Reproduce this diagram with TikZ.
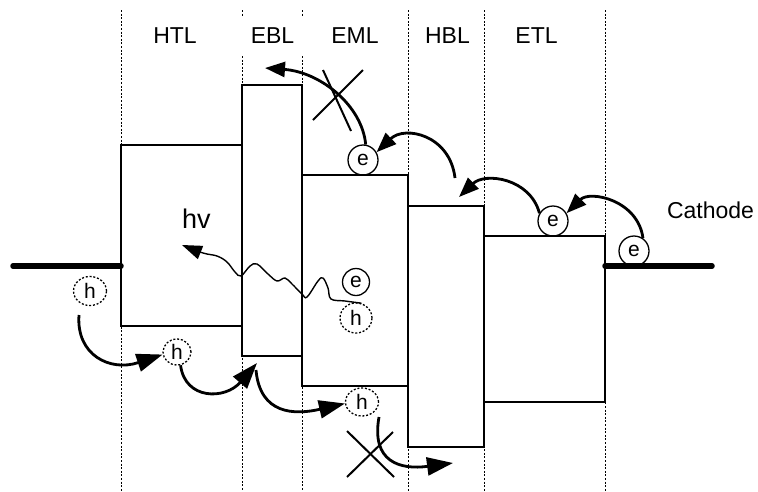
\documentclass[tikz,border=0pt]{standalone}
\usepackage{fontspec}
\setmainfont{Liberation Sans}
\usetikzlibrary{arrows.meta,shapes.geometric}
\begin{document}
\begin{tikzpicture}[x=1pt,y=-1pt,
  guide/.style={line width=1pt,dash pattern=on 2pt off 1.6pt},
  layer/.style={draw,line width=1.4pt,rectangle,inner sep=0pt,outer sep=0pt},
  electrode/.style={line width=5.5pt,line cap=round},
  lbl/.style={font=\fontsize{23}{23}\selectfont,anchor=base,inner sep=0pt},
  elec/.style={draw,circle,line width=1.3pt,minimum size=30pt,inner sep=0pt,font=\fontsize{21}{21}\selectfont},
  hole/.style={draw,ellipse,dash pattern=on 2pt off 1.8pt,line width=1.3pt,minimum width=32pt,minimum height=28pt,inner sep=0pt,font=\fontsize{21}{21}\selectfont},
  hop/.style={line width=2.8pt,-{Triangle[length=20pt,width=15pt]}},
  bighop/.style={line width=2.8pt,-{Triangle[length=26pt,width=18pt]}},
  cross/.style={line width=2pt},
  photon/.style={line width=1.4pt,-{Triangle[length=20pt,width=14pt]}}
]
\useasboundingbox (0,0) rectangle (758,491);

% dashed layer boundaries
\foreach \x in {121,408,484,605} \draw[guide] (\x,10) -- (\x,491);
\foreach \x in {242,302} {\draw[guide] (\x,10) -- (\x,16); \draw[guide] (\x,56) -- (\x,491);}

% layer energy boxes
\node[layer,minimum width=121pt,minimum height=181pt] (htl) at (181.5,235.5) {};
\node[layer,minimum width=60pt,minimum height=271pt] (ebl) at (272,220.5) {};
\node[layer,minimum width=106pt,minimum height=211pt] (eml) at (355,280.5) {};
\node[layer,minimum width=76pt,minimum height=241pt] (hbl) at (446,326.5) {};
\node[layer,minimum width=121pt,minimum height=166pt] (etl) at (544.5,319) {};

% electrodes
\coordinate (anodeL) at (13,266);
\coordinate (cathR) at (712,266);
\draw[electrode] (anodeL) -- (anodeL -| htl.west);
\draw[electrode] (cathR -| etl.east) -- (cathR);

% labels
\node[lbl] (lHTL) at (175,43) {HTL};
\node[lbl] (lEBL) at (272.5,43) {EBL};
\node[lbl] (lEML) at (355,43) {EML};
\node[lbl] (lHBL) at (447.5,43) {HBL};
\node[lbl] (lETL) at (536.5,43) {ETL};
\node[lbl] (lCath) at (710.5,218) {Cathode};
\node[font=\fontsize{27}{27}\selectfont,anchor=base west,inner sep=0pt] (hv) at (182,228) {hv};

% carriers
\node[elec] (e1) at (363,160) {e};
\node[elec] (e2) at (553,221) {e};
\node[elec] (e3) at (634,251) {e};
\node[elec,minimum size=27pt] (e4) at (356,282) {e};
\node[hole,minimum width=33pt,minimum height=29pt] (h1) at (90,291) {h};
\node[hole,minimum width=28pt,minimum height=26pt] (h2) at (177,352) {h};
\node[hole,minimum width=33pt,minimum height=28pt] (h3) at (362,402) {h};
\node[hole,minimum width=32pt,minimum height=30pt] (h4) at (356,318) {h};

% electron hops
\coordinate (hblIn) at (459,197);
\coordinate (hblOut) at (455,178);
\coordinate (eblIn) at (265,68);
\draw[hop] (e3.55) .. controls (638,200) and (590,190) .. (e2.30);
\draw[hop] (e2.150) .. controls (530,178) and (485,172) .. (hblIn);
\draw[hop] (hblOut) .. controls (450,135) and (405,125) .. (e1.30);
\draw[hop] (e1.80) .. controls (362,105) and (320,72) .. (eblIn);
\draw[cross] (313,120) -- (363,70);
\draw[cross] (323,70) -- (351,131);

% photon
\coordinate (hvTip) at (182,245);
\draw[photon] plot[smooth,tension=0.6] coordinates {(h4.70) (345,301) (331,299) (328,288) (323,278) (318,281) (307,297) (302,294) (292,284) (285,278) (277,281) (268,274) (257,264) (250,266) (241,276) (235,272) (227,262) (217,256) (203,253) (hvTip)};

% hole hops
\coordinate (h1out) at (79,315);
\coordinate (eblCorner) at (257,363);
\coordinate (emlIn) at (256,370);
\coordinate (h3out) at (379,417);
\coordinate (hblTip) at (453,463);
\draw[bighop] (h1out) .. controls (76,355) and (110,372) .. (h2.190);
\draw[bighop] (h2.285) .. controls (185,400) and (225,400) .. (eblCorner);
\draw[bighop] (emlIn) .. controls (260,415) and (295,415) .. (h3.185);
\draw[bighop] (h3out) .. controls (371,462) and (400,470) .. (hblTip);
\draw[cross] (347,431) -- (394,477);
\draw[cross] (393,432) -- (347,477);
\end{tikzpicture}
\end{document}
